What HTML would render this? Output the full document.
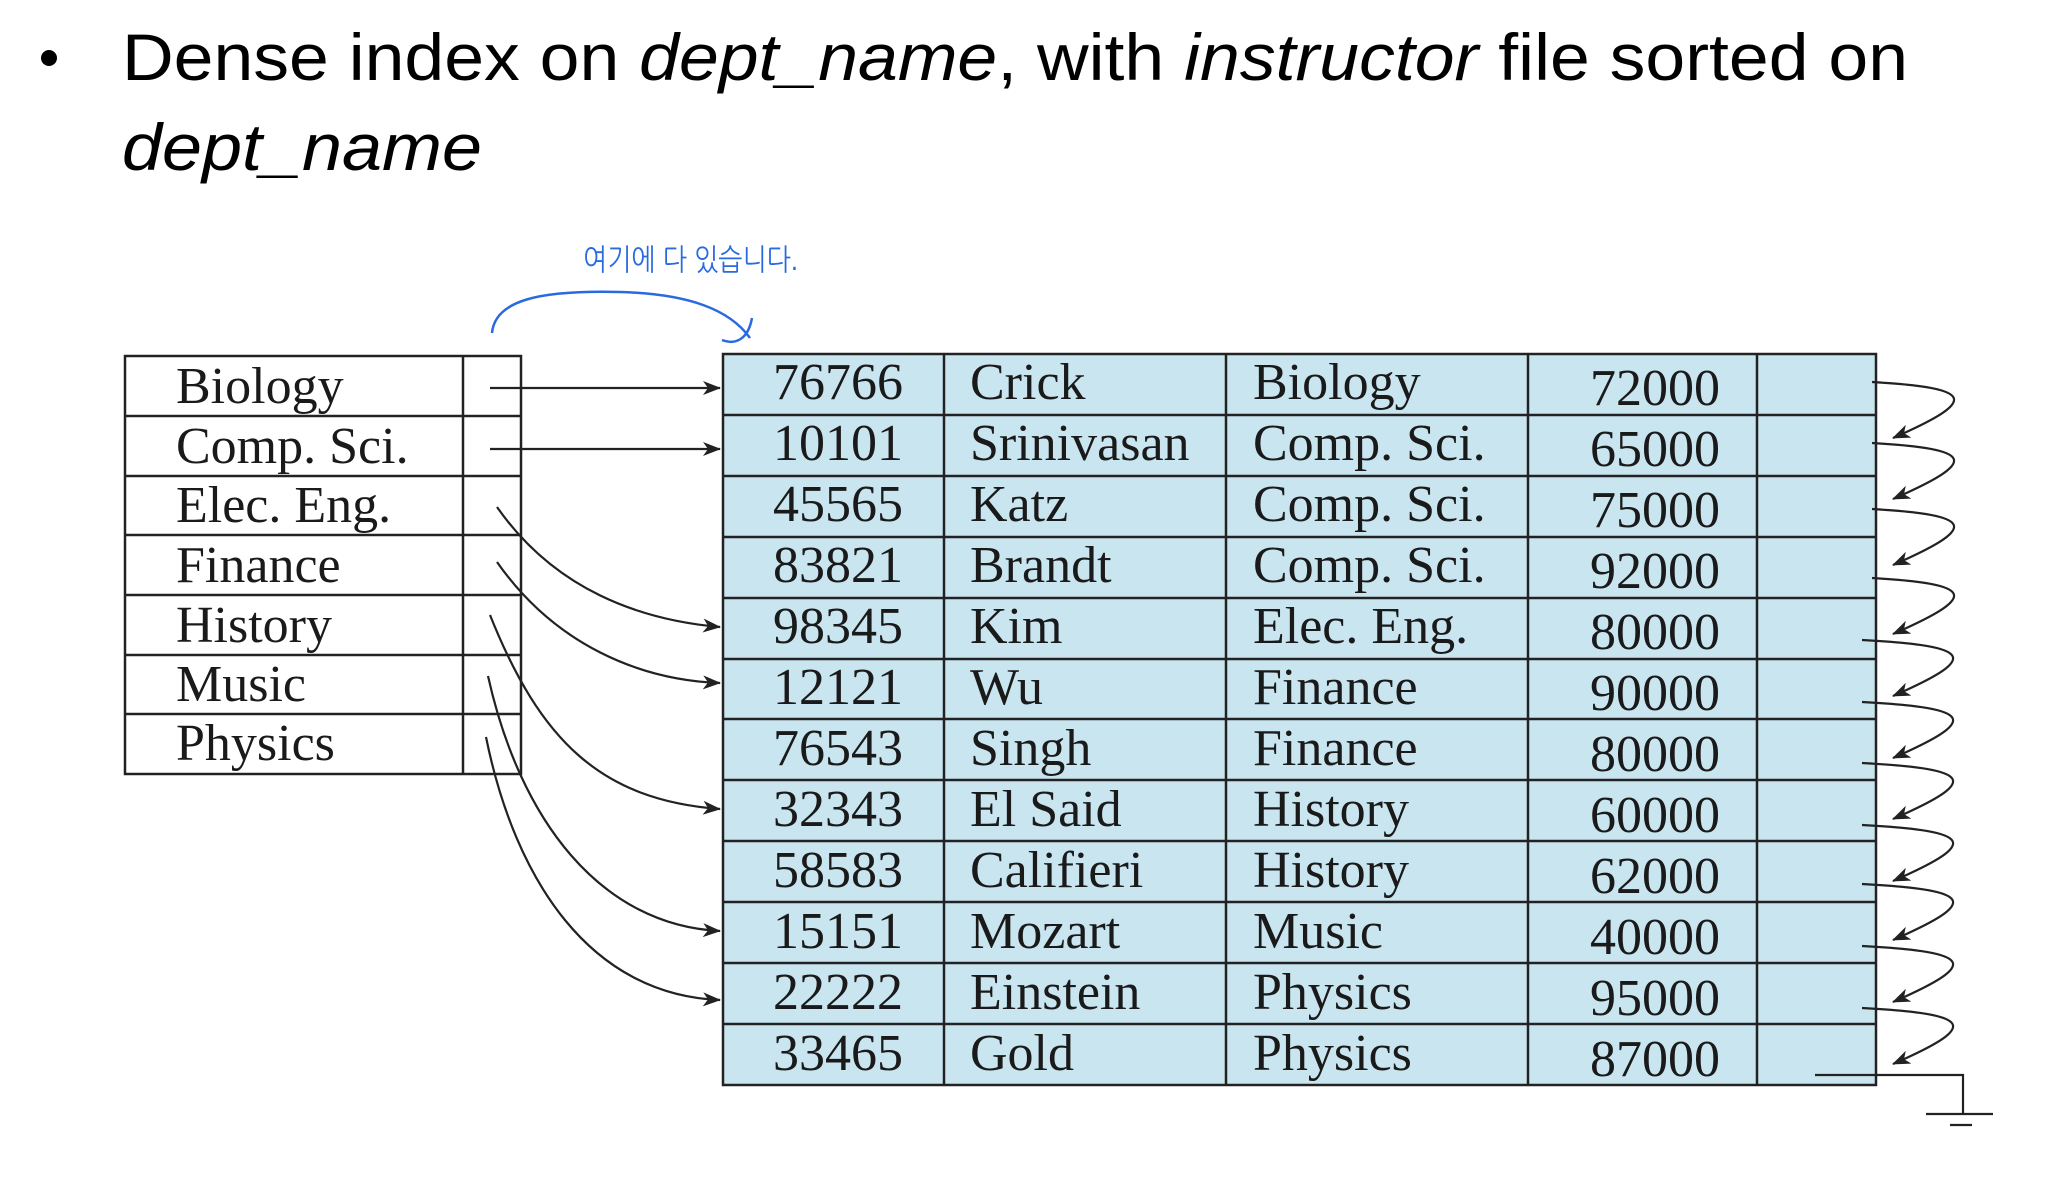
<!DOCTYPE html>
<html><head><meta charset="utf-8"><style>
html,body{margin:0;padding:0;background:#fff;}
svg{display:block;}
.t{font-family:"Liberation Serif",serif;font-size:52px;fill:#1a1a1a;}
.h{font-family:"Liberation Sans",sans-serif;font-size:66px;fill:#000;}
</style></head><body>
<svg width="2062" height="1184" viewBox="0 0 2062 1184" xmlns="http://www.w3.org/2000/svg">
<defs>
<marker id="a" markerWidth="18" markerHeight="14" refX="17" refY="7" orient="auto" markerUnits="userSpaceOnUse">
<path d="M0,0 L18,7 L0,14 L5,7 Z" fill="#222"/>
</marker>
</defs>
<circle cx="49" cy="58" r="8" fill="#000"/>
<text class="h" x="122" y="80" textLength="1786" lengthAdjust="spacingAndGlyphs">Dense index on <tspan font-style="italic">dept_name</tspan>, with <tspan font-style="italic">instructor</tspan> file sorted on</text>
<text class="h" x="122" y="170" font-style="italic" textLength="360" lengthAdjust="spacingAndGlyphs">dept_name</text>

<!-- annotation -->
<text x="583" y="270" font-family="'Liberation Sans','NanumGothic',sans-serif" font-size="30" fill="#2a6ae0" textLength="215" lengthAdjust="spacingAndGlyphs">여기에 다 있습니다.</text>
<path d="M492,333 C495,300 540,290 620,292 C690,294 730,310 750,338" fill="none" stroke="#2a6ae0" stroke-width="2.5"/>
<path d="M722,340 C735,345 748,340 752,318" fill="none" stroke="#2a6ae0" stroke-width="2.5"/>

<!-- index table -->
<g fill="none" stroke="#222" stroke-width="2.5">
<rect x="125" y="356" width="396" height="418" fill="#fff"/>
<line x1="463" y1="356" x2="463" y2="774"/>
<line x1="125" y1="416" x2="521" y2="416"/>
<line x1="125" y1="476" x2="521" y2="476"/>
<line x1="125" y1="535" x2="521" y2="535"/>
<line x1="125" y1="595" x2="521" y2="595"/>
<line x1="125" y1="655" x2="521" y2="655"/>
<line x1="125" y1="714" x2="521" y2="714"/>
</g>
<g class="t">
<text x="176" y="403">Biology</text>
<text x="176" y="463">Comp. Sci.</text>
<text x="176" y="522">Elec. Eng.</text>
<text x="176" y="582">Finance</text>
<text x="176" y="642">History</text>
<text x="176" y="701">Music</text>
<text x="176" y="760">Physics</text>
</g>

<!-- main table -->
<rect x="723" y="354" width="1153" height="731" fill="#c9e5f0" stroke="#222" stroke-width="2.5"/>
<g stroke="#222" stroke-width="2.5">
<line x1="944" y1="354" x2="944" y2="1085"/>
<line x1="1226" y1="354" x2="1226" y2="1085"/>
<line x1="1528" y1="354" x2="1528" y2="1085"/>
<line x1="1757" y1="354" x2="1757" y2="1085"/>
<line x1="723" y1="415" x2="1876" y2="415"/>
<line x1="723" y1="476" x2="1876" y2="476"/>
<line x1="723" y1="537" x2="1876" y2="537"/>
<line x1="723" y1="598" x2="1876" y2="598"/>
<line x1="723" y1="659" x2="1876" y2="659"/>
<line x1="723" y1="719" x2="1876" y2="719"/>
<line x1="723" y1="780" x2="1876" y2="780"/>
<line x1="723" y1="841" x2="1876" y2="841"/>
<line x1="723" y1="902" x2="1876" y2="902"/>
<line x1="723" y1="963" x2="1876" y2="963"/>
<line x1="723" y1="1024" x2="1876" y2="1024"/>
</g>
<g class="t">
<text x="773" y="399">76766</text><text x="970" y="399">Crick</text><text x="1253" y="399">Biology</text><text x="1720" y="405" text-anchor="end">72000</text>
<text x="773" y="460">10101</text><text x="970" y="460">Srinivasan</text><text x="1253" y="460">Comp. Sci.</text><text x="1720" y="466" text-anchor="end">65000</text>
<text x="773" y="521">45565</text><text x="970" y="521">Katz</text><text x="1253" y="521">Comp. Sci.</text><text x="1720" y="527" text-anchor="end">75000</text>
<text x="773" y="582">83821</text><text x="970" y="582">Brandt</text><text x="1253" y="582">Comp. Sci.</text><text x="1720" y="588" text-anchor="end">92000</text>
<text x="773" y="643">98345</text><text x="970" y="643">Kim</text><text x="1253" y="643">Elec. Eng.</text><text x="1720" y="649" text-anchor="end">80000</text>
<text x="773" y="704">12121</text><text x="970" y="704">Wu</text><text x="1253" y="704">Finance</text><text x="1720" y="710" text-anchor="end">90000</text>
<text x="773" y="765">76543</text><text x="970" y="765">Singh</text><text x="1253" y="765">Finance</text><text x="1720" y="771" text-anchor="end">80000</text>
<text x="773" y="826">32343</text><text x="970" y="826">El Said</text><text x="1253" y="826">History</text><text x="1720" y="832" text-anchor="end">60000</text>
<text x="773" y="887">58583</text><text x="970" y="887">Califieri</text><text x="1253" y="887">History</text><text x="1720" y="893" text-anchor="end">62000</text>
<text x="773" y="948">15151</text><text x="970" y="948">Mozart</text><text x="1253" y="948">Music</text><text x="1720" y="954" text-anchor="end">40000</text>
<text x="773" y="1009">22222</text><text x="970" y="1009">Einstein</text><text x="1253" y="1009">Physics</text><text x="1720" y="1015" text-anchor="end">95000</text>
<text x="773" y="1070">33465</text><text x="970" y="1070">Gold</text><text x="1253" y="1070">Physics</text><text x="1720" y="1076" text-anchor="end">87000</text>
</g>

<!-- index pointers -->
<g fill="none" stroke="#222" stroke-width="2.2" marker-end="url(#a)">
<line x1="490" y1="388" x2="720" y2="388"/>
<line x1="490" y1="449" x2="720" y2="449"/>
<path d="M497,507 C555,590 640,620 720,627"/>
<path d="M497,562 C555,645 640,680 720,683"/>
<path d="M490,615 C540,740 600,800 720,809"/>
<path d="M488,676 C520,820 600,925 720,931"/>
<path d="M486,737 C515,880 590,995 720,1000"/>
</g>

<!-- chain pointers -->
<g fill="none" stroke="#222" stroke-width="2.2" marker-end="url(#a)">
<path d="M1872,382 C1975,388 1980,400 1893,438"/>
<path d="M1872,443 C1975,449 1980,461 1893,499"/>
<path d="M1872,509 C1975,515 1980,527 1893,565"/>
<path d="M1872,578 C1975,584 1980,596 1893,634"/>
<path d="M1862,640 C1975,646 1980,658 1893,696"/>
<path d="M1862,702 C1975,708 1980,720 1893,758"/>
<path d="M1862,763 C1975,769 1980,781 1893,819"/>
<path d="M1862,825 C1975,831 1980,843 1893,881"/>
<path d="M1862,884 C1975,890 1980,902 1893,940"/>
<path d="M1862,946 C1975,952 1980,964 1893,1002"/>
<path d="M1862,1008 C1975,1014 1980,1026 1893,1064"/>
</g>
<g fill="none" stroke="#222" stroke-width="2.2">
<polyline points="1815,1075 1963,1075 1963,1114"/>
<line x1="1926" y1="1114" x2="1993" y2="1114"/>
<line x1="1950" y1="1125" x2="1972" y2="1125"/>
</g>
</svg>
</body></html>
